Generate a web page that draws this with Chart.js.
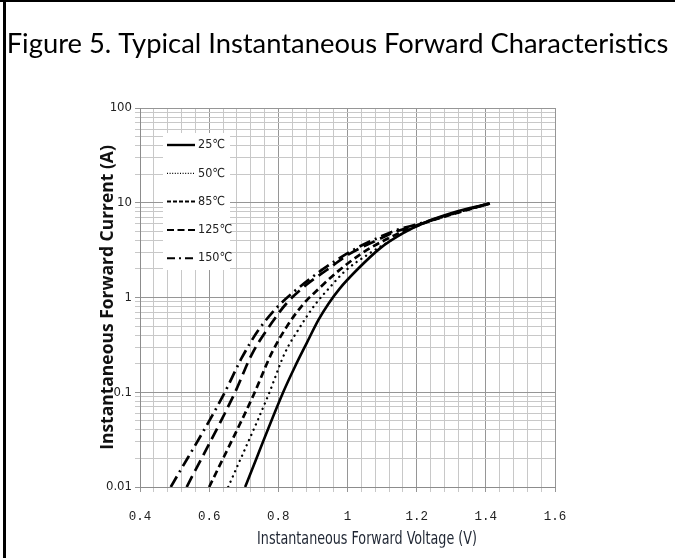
<!DOCTYPE html>
<html><head><meta charset="utf-8">
<script src="https://cdn.jsdelivr.net/npm/chart.js@4.4.1/dist/chart.umd.min.js"></script>
<style>
html,body{margin:0;padding:0;background:#fff;}
#wrap{position:relative;width:675px;height:558px;overflow:hidden;background:#fff;}
#c{position:absolute;left:0;top:0;}
.bl{position:absolute;background:#000;pointer-events:none;}
#xt{position:absolute;white-space:nowrap;color:#1f2633;transform:translateX(-50%) scaleY(1.22);transform-origin:50% 100%;}
</style></head><body>
<div id="wrap">
<canvas id="c" width="675" height="558"></canvas>
<div class="bl" style="left:0;top:0;width:675px;height:2px"></div>
<div class="bl" style="left:3px;top:0;width:3px;height:558px"></div>
<div id="xt"></div>
</div>
<script>
// ---- data ----
const seriesLabels = ['25℃', '50℃', '85℃', '125℃', '150℃'];
const v25  = [0.704, 0.814, 0.848, 0.882, 0.916, 0.945, 0.978, 1.027, 1.094, 1.162, 1.229, 1.297, 1.354, 1.412];
const i25  = [0.01, 0.1, 0.186, 0.33, 0.58, 0.86, 1.25, 1.95, 3.3, 4.8, 6.3, 7.7, 8.8, 9.8];
const v50  = [0.655, 0.771, 0.819, 0.863, 0.906, 0.949, 0.993, 1.056, 1.12, 1.2, 1.3, 1.41];
const i50  = [0.01, 0.093, 0.26, 0.49, 0.84, 1.28, 1.9, 2.8, 3.9, 5.7, 7.5, 9.8];
const v85  = [0.600, 0.728, 0.781, 0.824, 0.872, 0.921, 0.973, 1.04, 1.1, 1.2, 1.3, 1.41];
const i85  = [0.01, 0.093, 0.26, 0.49, 0.85, 1.28, 1.9, 2.9, 3.9, 5.7, 7.5, 9.8];
const v125 = [0.535, 0.675, 0.723, 0.781, 0.824, 0.882, 0.940, 1.007, 1.084, 1.142, 1.2, 1.3, 1.41];
const i125 = [0.01, 0.1, 0.25, 0.54, 0.87, 1.37, 1.95, 2.9, 4.0, 5.0, 5.8, 7.6, 9.8];
const v150 = [0.489, 0.641, 0.694, 0.742, 0.795, 0.845, 0.892, 0.930, 1.007, 1.084, 1.142, 1.2, 1.3, 1.41];
const i150 = [0.01, 0.093, 0.23, 0.45, 0.78, 1.15, 1.58, 2.0, 3.04, 4.2, 5.15, 5.9, 7.6, 9.8];
const xTickLabels = ['0.4', '0.6', '0.8', '1', '1.2', '1.4', '1.6'];
const yTickLabels = ['0.01', '0.1', '1', '10', '100'];
const titleText = 'Figure 5. Typical Instantaneous Forward Characteristics';
const xTitleText = 'Instantaneous Forward Voltage (V)';
const yTitleText = 'Instantaneous Forward Current (A)';

// ---- helpers ----
function fitSize(text, weight, family, target) {
  const c = document.createElement('canvas').getContext('2d');
  c.font = weight + ' 100px ' + family;
  return 100 * target / c.measureText(text).width;
}
const TITLE_FONT = 'Lato, "Open Sans", sans-serif';
const YT_FONT = '"Open Sans", Lato, sans-serif';
const COND_FONT = '"Liberation Sans Narrow", "DejaVu Sans Condensed", "Noto Sans", sans-serif';
const titleSize = fitSize(titleText, 'normal', TITLE_FONT, 662);
const ySize = fitSize(yTitleText, 'bold', YT_FONT, 305);
const xSize = fitSize(xTitleText, 'normal', COND_FONT, 220);

const xt = document.getElementById('xt');
xt.textContent = xTitleText;
xt.style.font = xSize.toFixed(2) + 'px ' + COND_FONT;
xt.style.lineHeight = '1';
xt.style.left = '367px';
xt.style.top = (546 - xSize).toFixed(1) + 'px';

const pts = (vs, is) => vs.map((v, k) => ({x: v, y: is[k]}));
const common = {borderColor: '#000', backgroundColor: '#000', pointRadius: 0, fill: false,
  cubicInterpolationMode: 'monotone', borderJoinStyle: 'round', yAxisID: 'y'};
const datasets = [
  Object.assign({}, common, {label: seriesLabels[0], data: pts(v25, i25), borderWidth: 2.6, borderDash: [], legendDash: [], legendWidth: 2.4}),
  Object.assign({}, common, {label: seriesLabels[1], data: pts(v50, i50), borderWidth: 2.3, borderDash: [0.1, 5.6], borderCapStyle: 'round', legendDash: [1, 1.6], legendWidth: 1.3}),
  Object.assign({}, common, {label: seriesLabels[2], data: pts(v85, i85), borderWidth: 2.7, borderDash: [7, 4], legendDash: [4, 2], legendWidth: 2}),
  Object.assign({}, common, {label: seriesLabels[3], data: pts(v125, i125), borderWidth: 2.7, borderDash: [12, 6], legendDash: [7, 3.5], legendWidth: 2}),
  Object.assign({}, common, {label: seriesLabels[4], data: pts(v150, i150), borderWidth: 2.7, borderDash: [12, 5, 2, 5], legendDash: [8, 4, 2, 4], legendWidth: 2})
];

const insideLegend = {
  id: 'insideLegend',
  afterDatasetsDraw(chart, args, o) {
    const ctx = chart.ctx;
    ctx.save();
    ctx.fillStyle = '#fff';
    ctx.fillRect(o.left, o.top, o.width, o.height);
    chart.data.datasets.forEach((ds, k) => {
      const y = o.firstY + k * o.rowGap;
      ctx.beginPath();
      ctx.setLineDash(ds.legendDash);
      ctx.lineWidth = ds.legendWidth;
      ctx.strokeStyle = ds.borderColor;
      ctx.lineCap = 'butt';
      ctx.moveTo(o.x0, y); ctx.lineTo(o.x1, y); ctx.stroke();
      ctx.setLineDash([]);
      ctx.fillStyle = o.color;
      ctx.font = o.font;
      ctx.textBaseline = 'middle';
      ctx.textAlign = 'left';
      ctx.fillText(ds.label, o.textX, y);
    });
    ctx.restore();
  }
};

const isDecade = v => Math.abs(Math.log10(v) - Math.round(Math.log10(v))) < 1e-9;
const MINOR = '#c8c8c8', MAJOR = '#969696';

new Chart(document.getElementById('c'), {
  type: 'line',
  data: {datasets},
  plugins: [insideLegend],
  options: {
    responsive: false,
    animation: false,
    layout: {padding: {left: 0, right: 0, top: 0, bottom: 0}},
    plugins: {
      legend: {display: false},
      tooltip: {enabled: false},
      title: {display: true, text: titleText, color: '#000',
        font: {family: TITLE_FONT, size: titleSize, weight: 'normal', lineHeight: 1.2},
        padding: {top: 28, bottom: 108 - 28 - titleSize * 1.2}},
      insideLegend: {left: 163, top: 133, width: 67, height: 137, firstY: 145, rowGap: 28.3,
        x0: 167, x1: 195, textX: 198, color: '#222', font: '12.5px ' + COND_FONT}
    },
    scales: {
      x: {
        type: 'linear', min: 0.4, max: 1.6,
        afterBuildTicks: s => { const t = []; for (let k = 0; k <= 30; k++) t.push({value: Math.round((0.4 + k * 0.04) * 1000) / 1000}); s.ticks = t; },
        afterFit: s => { s.height = 71; },
        grid: {drawTicks: true, tickLength: 5,
          color: c => (c.index % 5 === 0 ? MAJOR : MINOR),
          tickColor: c => (c.index % 5 === 0 ? MAJOR : MINOR), lineWidth: 1},
        border: {display: true, color: '#8c8c8c', width: 1},
        ticks: {autoSkip: false, maxRotation: 0, minRotation: 0, padding: 17, color: '#222',
          font: {family: '"Liberation Mono", "DejaVu Sans Mono", monospace', size: 12.5},
          callback: (val, idx) => (idx % 5 === 0 ? xTickLabels[idx / 5] : '')}
      },
      y: {
        type: 'logarithmic', position: 'left', min: 0.01, max: 100,
        afterBuildTicks: s => { const t = []; for (let e = -2; e <= 1; e++) for (let m = 1; m <= 9; m++) t.push({value: Number((m * Math.pow(10, e)).toPrecision(6))}); t.push({value: 100}); s.ticks = t; },
        afterFit: s => { s.width = 140; },
        grid: {drawTicks: true, tickLength: 5,
          color: c => (c.tick && isDecade(c.tick.value) ? MAJOR : MINOR),
          tickColor: c => (c.tick && isDecade(c.tick.value) ? MAJOR : MINOR), lineWidth: 1},
        border: {display: true, color: '#8c8c8c', width: 1},
        ticks: {autoSkip: false, padding: 3, color: '#222',
          font: {family: COND_FONT, size: 13},
          callback: (val) => (isDecade(val) ? yTickLabels[Math.round(Math.log10(val)) + 2] : '')},
        title: {display: true, text: yTitleText, color: '#111',
          font: {family: YT_FONT, size: ySize, weight: 'bold', lineHeight: 1.2},
          padding: {top: 108 - ySize * 0.6, bottom: 0}}
      },
      rightSpace: {
        type: 'linear', position: 'right', min: 0, max: 1, display: true,
        afterFit: s => { s.width = 120; },
        grid: {display: false, drawTicks: false},
        border: {display: false},
        ticks: {display: false}
      }
    }
  }
});
</script>
</body></html>
